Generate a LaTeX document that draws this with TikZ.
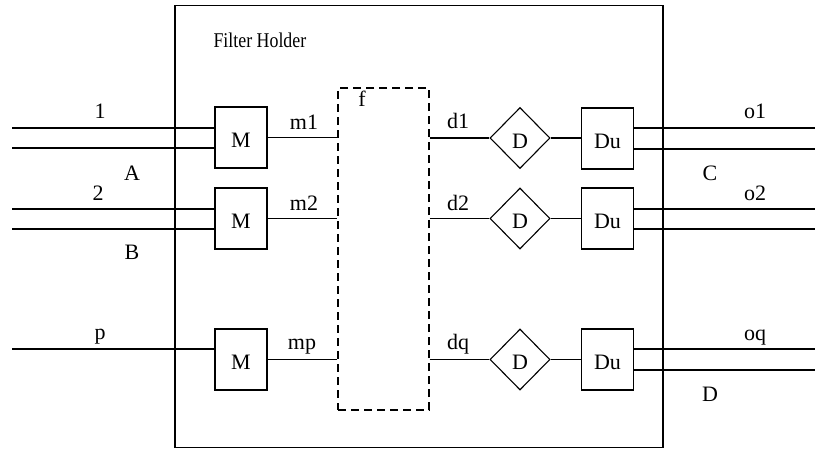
\documentclass[tikz,border=0pt]{standalone}
\usepackage{fontspec}
\usepackage{graphicx}
\setmainfont{Liberation Serif}
\usetikzlibrary{shapes.geometric}
\begin{document}
\begin{tikzpicture}[x=1pt,y=-1pt,line width=1.1pt,
  txt/.style={font=\fontsize{22}{24}\selectfont,inner sep=0pt},
  box/.style={draw,minimum width=52pt,minimum height=61pt,inner sep=0pt,txt,text height=20pt,text depth=0pt},
  dia/.style={draw,diamond,aspect=1,minimum width=60pt,minimum height=61pt,inner sep=0pt,txt,text height=20pt,text depth=0pt},
  lbl/.style={txt,anchor=base}]
\useasboundingbox (0,0) rectangle (815,450);
% outer holder
\node[draw,minimum width=488pt,minimum height=442pt,inner sep=0pt] (holder) at (419,226.5) {};
\node[lbl,anchor=base west,font=\fontsize{21}{23}\selectfont] (title) at (213,47) {\scalebox{0.85}[1]{Filter Holder}};
% filter
\node[draw,dashed,dash pattern=on 8pt off 5pt,minimum width=91pt,minimum height=322pt,inner sep=0pt] (f) at (383.5,249) {};
\node[lbl] (flab) at (362,106) {f};
% M boxes
\node[box] (m1) at (241,137.5) {M};
\node[box] (m2) at (241,218.5) {M};
\node[box] (m3) at (241,359.5) {M};
% D diamonds
\node[dia] (d1) at (520,138) {D};
\node[dia] (d2) at (520,218.5) {D};
\node[dia] (d3) at (520,359.5) {D};
% Du boxes
\node[box] (u1) at (607.5,138.5) {Du};
\node[box] (u2) at (607.5,218.5) {Du};
\node[box] (u3) at (607.5,359.5) {Du};
% input free ends
\coordinate (i1a) at (12,128);
\coordinate (i1b) at (12,148);
\coordinate (i2a) at (12,209);
\coordinate (i2b) at (12,229);
\coordinate (ip) at (12,349);
% output free ends
\coordinate (o1a) at (815,128);
\coordinate (o1b) at (815,149);
\coordinate (o2a) at (815,209);
\coordinate (o2b) at (815,229);
\coordinate (oqa) at (815,349);
\coordinate (oqb) at (815,370);
% input wires
\draw (i1a) -- (i1a -| m1.west);
\draw (i1b) -- (i1b -| m1.west);
\draw (i2a) -- (i2a -| m2.west);
\draw (i2b) -- (i2b -| m2.west);
\draw (ip) -- (ip -| m3.west);
% M to filter
\draw (m1.east) -- (m1.east -| f.west);
\draw (m2.east) -- (m2.east -| f.west);
\draw (m3.east) -- (m3.east -| f.west);
% filter to D
\draw (d1.west -| f.east) -- (d1.west);
\draw (d2.west -| f.east) -- (d2.west);
\draw (d3.west -| f.east) -- (d3.west);
% D to Du
\draw (d1.east) -- (d1.east -| u1.west);
\draw (d2.east) -- (d2.east -| u2.west);
\draw (d3.east) -- (d3.east -| u3.west);
% outputs
\draw (o1a -| u1.east) -- (o1a);
\draw (o1b -| u1.east) -- (o1b);
\draw (o2a -| u2.east) -- (o2a);
\draw (o2b -| u2.east) -- (o2b);
\draw (oqa -| u3.east) -- (oqa);
\draw (oqb -| u3.east) -- (oqb);
% labels
\node[lbl] (l1) at (100,118) {1};
\node[lbl] (lA) at (132,180) {A};
\node[lbl] (l2) at (98,200) {2};
\node[lbl] (lB) at (132,259) {B};
\node[lbl] (lp) at (100,339) {p};
\node[lbl] (lm1) at (304,129) {m1};
\node[lbl] (lm2) at (304,210) {m2};
\node[lbl] (lmp) at (302,349) {mp};
\node[lbl] (ld1) at (458,128) {d1};
\node[lbl] (ld2) at (458,210) {d2};
\node[lbl] (ldq) at (458,349) {dq};
\node[lbl] (lo1) at (755,118) {o1};
\node[lbl] (lC) at (710,180) {C};
\node[lbl] (lo2) at (755,200) {o2};
\node[lbl] (loq) at (755,340) {oq};
\node[lbl] (lD) at (710,401) {D};
\end{tikzpicture}
\end{document}
